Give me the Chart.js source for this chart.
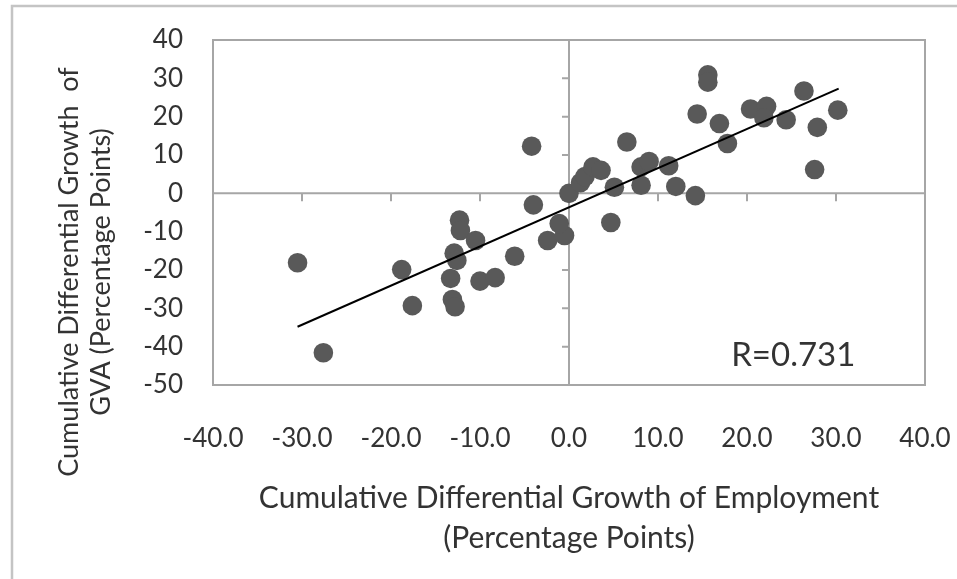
<!DOCTYPE html>
<html>
<head>
<meta charset="utf-8">
<script src="https://cdn.jsdelivr.net/npm/chart.js@4"></script>
<style>
  html, body { margin: 0; padding: 0; background: #fff; }
  #wrap { width: 957px; height: 579px; position: relative; }
</style>
</head>
<body>
<div id="wrap"><canvas id="scatter"></canvas></div>
<script>
// employment growth (x) vs GVA growth (y), percentage points
const employment = [
  -30.5, -27.6, -18.8, -17.6, -12.3, -12.2, -10.5, -12.9, -12.6, -13.3,
  -13.1, -12.8, -10.0, -8.3, -6.1, -4.2, -4.0, -2.4, -0.5, -1.1,
  0.0, 1.3, 1.8, 2.7, 3.6, 5.1, 4.7, 6.5, 8.1, 9.0,
  8.1, 11.2, 12.0, 14.2, 14.4, 15.6, 15.6, 16.9, 17.8, 20.4,
  22.2, 21.9, 24.4, 26.4, 27.9, 27.6, 30.2
];
const gva = [
  -18.1, -41.6, -19.9, -29.3, -7.0, -9.7, -12.3, -15.6, -17.5, -22.2,
  -27.7, -29.6, -22.9, -22.0, -16.4, 12.3, -3.0, -12.3, -11.0, -7.9,
  0.0, 2.8, 4.4, 6.9, 6.0, 1.6, -7.6, 13.4, 6.9, 8.3,
  2.1, 7.2, 1.8, -0.6, 20.7, 30.9, 29.0, 18.2, 13.0, 22.0,
  22.7, 19.7, 19.2, 26.7, 17.2, 6.2, 21.7
];
// linear trendline end points as drawn in the picture
const trendX = [-30.5, 30.3];
const trendY = [-34.8, 27.3];

const xTicks = [-40, -30, -20, -10, 0, 10, 20, 30, 40];
const yTicks = [40, 30, 20, 10, 0, -10, -20, -30, -40, -50];

const rLabel = 'R=0.731';
const yTitle = ['Cumulative Differential Growth  of', 'GVA (Percentage Points)'];
const xTitle = ['Cumulative Differential Growth of Employment', '(Percentage Points)'];

const FONT = 'Lato';
const TEXT = '#333333';
const AXIS = '#a6a6a6';

const points = employment.map((x, i) => ({ x, y: gva[i] }));
const trend = trendX.map((x, i) => ({ x, y: trendY[i] }));

// frame, plot border, zero lines with their tick marks
const framePlugin = {
  id: 'frame',
  beforeDraw(chart) {
    const { ctx, width, height } = chart;
    ctx.save();
    ctx.strokeStyle = '#c4c4c4';
    ctx.lineWidth = 2.5;
    ctx.beginPath();
    ctx.moveTo(12, height);
    ctx.lineTo(12, 6);
    ctx.lineTo(width, 6);
    ctx.stroke();
    ctx.restore();
  },
  beforeDatasetsDraw(chart) {
    const { ctx, chartArea: a, scales: { x, y } } = chart;
    const x0 = x.getPixelForValue(0);
    const y0 = y.getPixelForValue(0);
    ctx.save();
    ctx.strokeStyle = AXIS;
    ctx.lineWidth = 2;
    ctx.strokeRect(a.left, a.top, a.right - a.left, a.bottom - a.top);
    ctx.beginPath();
    ctx.moveTo(a.left, y0);
    ctx.lineTo(a.right, y0);
    ctx.moveTo(x0, a.top);
    ctx.lineTo(x0, a.bottom);
    xTicks.forEach((v) => {
      const px = x.getPixelForValue(v);
      ctx.moveTo(px, y0);
      ctx.lineTo(px, y0 + 8);
    });
    yTicks.forEach((v) => {
      const py = y.getPixelForValue(v);
      ctx.moveTo(x0 - 7, py);
      ctx.lineTo(x0, py);
    });
    ctx.stroke();
    ctx.restore();
  },
  afterDraw(chart) {
    const { ctx, scales: { x, y } } = chart;
    ctx.save();
    ctx.fillStyle = TEXT;
    ctx.textAlign = 'center';
    ctx.textBaseline = 'middle';
    ctx.font = '33px ' + FONT;
    ctx.fillText(rLabel, x.getPixelForValue(25.2), y.getPixelForValue(-42.3));

    ctx.font = '27px ' + FONT;
    ctx.translate(69, 272);
    ctx.rotate(-Math.PI / 2);
    ctx.fillText(yTitle[0], 0, 0);
    ctx.fillText(yTitle[1], 0, 32);
    ctx.restore();
  },
};

new Chart(document.getElementById('scatter'), {
  type: 'scatter',
  data: {
    datasets: [
      {
        type: 'line',
        data: trend,
        borderColor: '#000000',
        borderWidth: 2,
        pointRadius: 0,
        fill: false,
        order: 0,
      },
      {
        data: points,
        backgroundColor: '#595959',
        borderColor: '#595959',
        borderWidth: 0,
        pointRadius: 9.8,
        order: 1,
      },
    ],
  },
  options: {
    responsive: true,
    maintainAspectRatio: false,
    animation: false,
    layout: { padding: { top: 40, right: 0, bottom: 0, left: 0 } },
    plugins: { legend: { display: false }, tooltip: { enabled: false } },
    scales: {
      x: {
        type: 'linear',
        min: -40,
        max: 40,
        afterBuildTicks: (s) => { s.ticks = xTicks.map((v) => ({ value: v })); },
        afterFit: (s) => {
          s.height = 194;
          s.paddingLeft = 0;
          s.paddingRight = 32;
        },
        grid: { display: false, drawTicks: false },
        border: { display: false },
        ticks: {
          color: TEXT,
          font: { family: FONT, size: 26 },
          padding: 38,
          callback: (v) => Number(v).toFixed(1),
        },
        title: {
          display: true,
          text: xTitle,
          color: TEXT,
          font: { family: FONT, size: 30, lineHeight: '40px' },
          padding: { top: 0, bottom: 21 },
        },
      },
      y: {
        type: 'linear',
        min: -50,
        max: 40,
        afterBuildTicks: (s) => { s.ticks = yTicks.map((v) => ({ value: v })); },
        afterFit: (s) => {
          s.width = 213;
          s.paddingTop = 0;
          s.paddingBottom = 0;
        },
        grid: { display: false, drawTicks: false },
        border: { display: false },
        ticks: {
          color: TEXT,
          font: { family: FONT, size: 26 },
          padding: 30,
        },
      },
    },
  },
  plugins: [framePlugin],
});
</script>
</body>
</html>
